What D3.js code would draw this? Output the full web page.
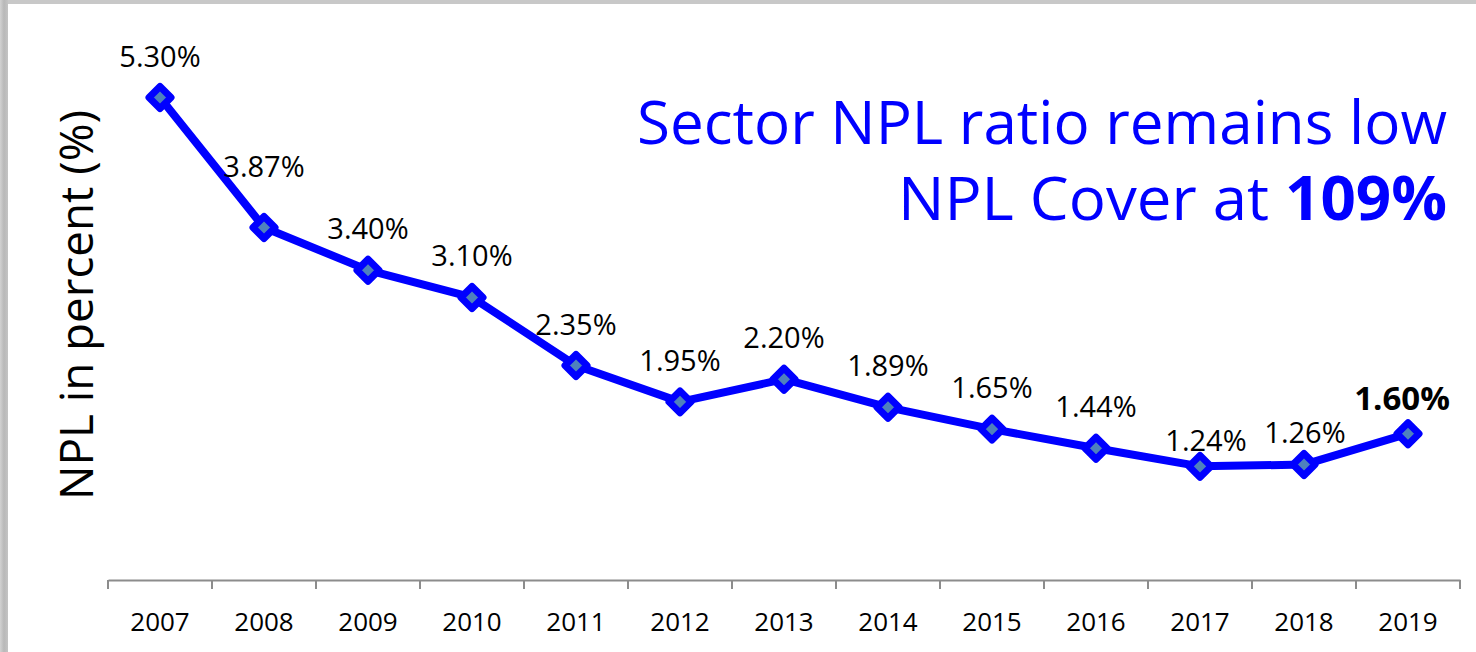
<!DOCTYPE html>
<html>
<head>
<meta charset="utf-8">
<script src="https://cdn.jsdelivr.net/npm/d3@7"></script>
<style>
  html, body { margin: 0; padding: 0; background: #fff; }
  svg { display: block; }
  text { font-family: "Open Sans", "Noto Sans", sans-serif; }
</style>
</head>
<body>
<svg id="chart"></svg>
<script>
// data
const years = ["2007", "2008", "2009", "2010", "2011", "2012", "2013",
               "2014", "2015", "2016", "2017", "2018", "2019"];
const nplRatio = [5.30, 3.87, 3.40, 3.10, 2.35, 1.95, 2.20, 1.89, 1.65, 1.44, 1.24, 1.26, 1.60];
const valueLabels = ["5.30%", "3.87%", "3.40%", "3.10%", "2.35%", "1.95%", "2.20%",
                     "1.89%", "1.65%", "1.44%", "1.24%", "1.26%", "1.60%"];
const yTitle = "NPL in percent (%)";
const titleLine1 = "Sector NPL ratio remains low";
const titleLine2 = "NPL Cover at ";
const titleBold = "109%";

// small nudges for labels that sit off the usual spot
const labelNudge = [[0, 0], [0, -19], [0, 0], [0, 0], [0, 0], [0, 0], [0, 0],
                    [0, 0], [0, 0], [0, 0], [6, 16], [1, 9], [-6, 7]];

const width = 1476, height = 652;
const svg = d3.select("#chart").attr("width", width).attr("height", height);

// grey frame like the slide edge
const defs = svg.append("defs");
const grad = defs.append("linearGradient").attr("id", "edge")
    .attr("x1", 0).attr("x2", 1).attr("y1", 0).attr("y2", 0);
grad.append("stop").attr("offset", 0).attr("stop-color", "#d2d2d2");
grad.append("stop").attr("offset", 0.5).attr("stop-color", "#b8b8b8");
grad.append("stop").attr("offset", 1).attr("stop-color", "#c4c4c4");
svg.append("rect").attr("width", width).attr("height", height).attr("fill", "#c8c8c8");
svg.append("rect").attr("width", 8).attr("height", height).attr("fill", "url(#edge)");
svg.append("rect").attr("x", 8).attr("y", 4).attr("width", width - 8).attr("height", height - 4)
    .attr("fill", "#ffffff");

const x = d3.scaleBand().domain(years).range([108, 1460]).padding(0);
const y = d3.scaleLinear().domain([0, 6]).range([579, 34]);
const cx = d => x(d) + x.bandwidth() / 2;

// category axis with ticks between categories
const axisY = 580;
const axis = svg.append("g").attr("transform", `translate(0,${axisY})`);
axis.call(d3.axisBottom(x).tickSize(0).tickPadding(33))
    .call(g => g.select(".domain").attr("stroke", "#8c8c8c").attr("stroke-width", 2))
    .call(g => g.selectAll("text").attr("font-size", 26).attr("fill", "#000")
        .attr("font-family", "Open Sans, Noto Sans, sans-serif"));
axis.selectAll(".between")
    .data(years.concat(["end"]))
    .join("line")
    .attr("class", "between")
    .attr("x1", (d, i) => i < years.length ? x(d) : x(years[years.length - 1]) + x.bandwidth())
    .attr("x2", (d, i) => i < years.length ? x(d) : x(years[years.length - 1]) + x.bandwidth())
    .attr("y1", 0).attr("y2", 9)
    .attr("stroke", "#8c8c8c").attr("stroke-width", 2);

// y axis title
svg.append("text")
    .attr("transform", "translate(93,305) rotate(-90)")
    .attr("text-anchor", "middle")
    .attr("font-size", 46)
    .attr("textLength", 390)
    .attr("lengthAdjust", "spacingAndGlyphs")
    .attr("fill", "#000")
    .text(yTitle);

// line
const pts = years.map((yr, i) => ({ year: yr, v: nplRatio[i], label: valueLabels[i], i: i }));
const line = d3.line().x(d => cx(d.year)).y(d => y(d.v));
svg.append("path")
    .datum(pts)
    .attr("d", line)
    .attr("fill", "none")
    .attr("stroke", "#0000ff")
    .attr("stroke-width", 8)
    .attr("stroke-linejoin", "round");

// diamond markers
const r = 11;
svg.selectAll(".marker")
    .data(pts)
    .join("path")
    .attr("class", "marker")
    .attr("d", `M0,${-r}L${r},0L0,${r}L${-r},0Z`)
    .attr("transform", d => `translate(${cx(d.year)},${y(d.v)})`)
    .attr("fill", "#4f81bd")
    .attr("stroke", "#0000ff")
    .attr("stroke-width", 7)
    .attr("stroke-linejoin", "round");

// value labels
const last = pts.length - 1;
svg.selectAll(".vlabel")
    .data(pts)
    .join("text")
    .attr("class", "vlabel")
    .attr("x", d => cx(d.year) + labelNudge[d.i][0])
    .attr("y", d => y(d.v) - 31 + labelNudge[d.i][1])
    .attr("text-anchor", "middle")
    .attr("font-size", d => d.i === last ? 33 : 29)
    .attr("font-weight", d => d.i === last ? 700 : 400)
    .attr("fill", "#000")
    .text(d => d.label);

// headline in blue
svg.append("text")
    .attr("x", 1447).attr("y", 144)
    .attr("text-anchor", "end")
    .attr("font-size", 60)
    .attr("textLength", 810)
    .attr("lengthAdjust", "spacingAndGlyphs")
    .attr("fill", "#0000ff")
    .text(titleLine1);

const t2 = svg.append("text")
    .attr("x", 1447).attr("y", 220)
    .attr("text-anchor", "end")
    .attr("font-size", 60)
    .attr("fill", "#0000ff");
t2.append("tspan").attr("textLength", 387).attr("lengthAdjust", "spacingAndGlyphs").text(titleLine2);
t2.append("tspan").attr("font-weight", 700).attr("textLength", 162)
    .attr("lengthAdjust", "spacingAndGlyphs").text(titleBold);
</script>
</body>
</html>
